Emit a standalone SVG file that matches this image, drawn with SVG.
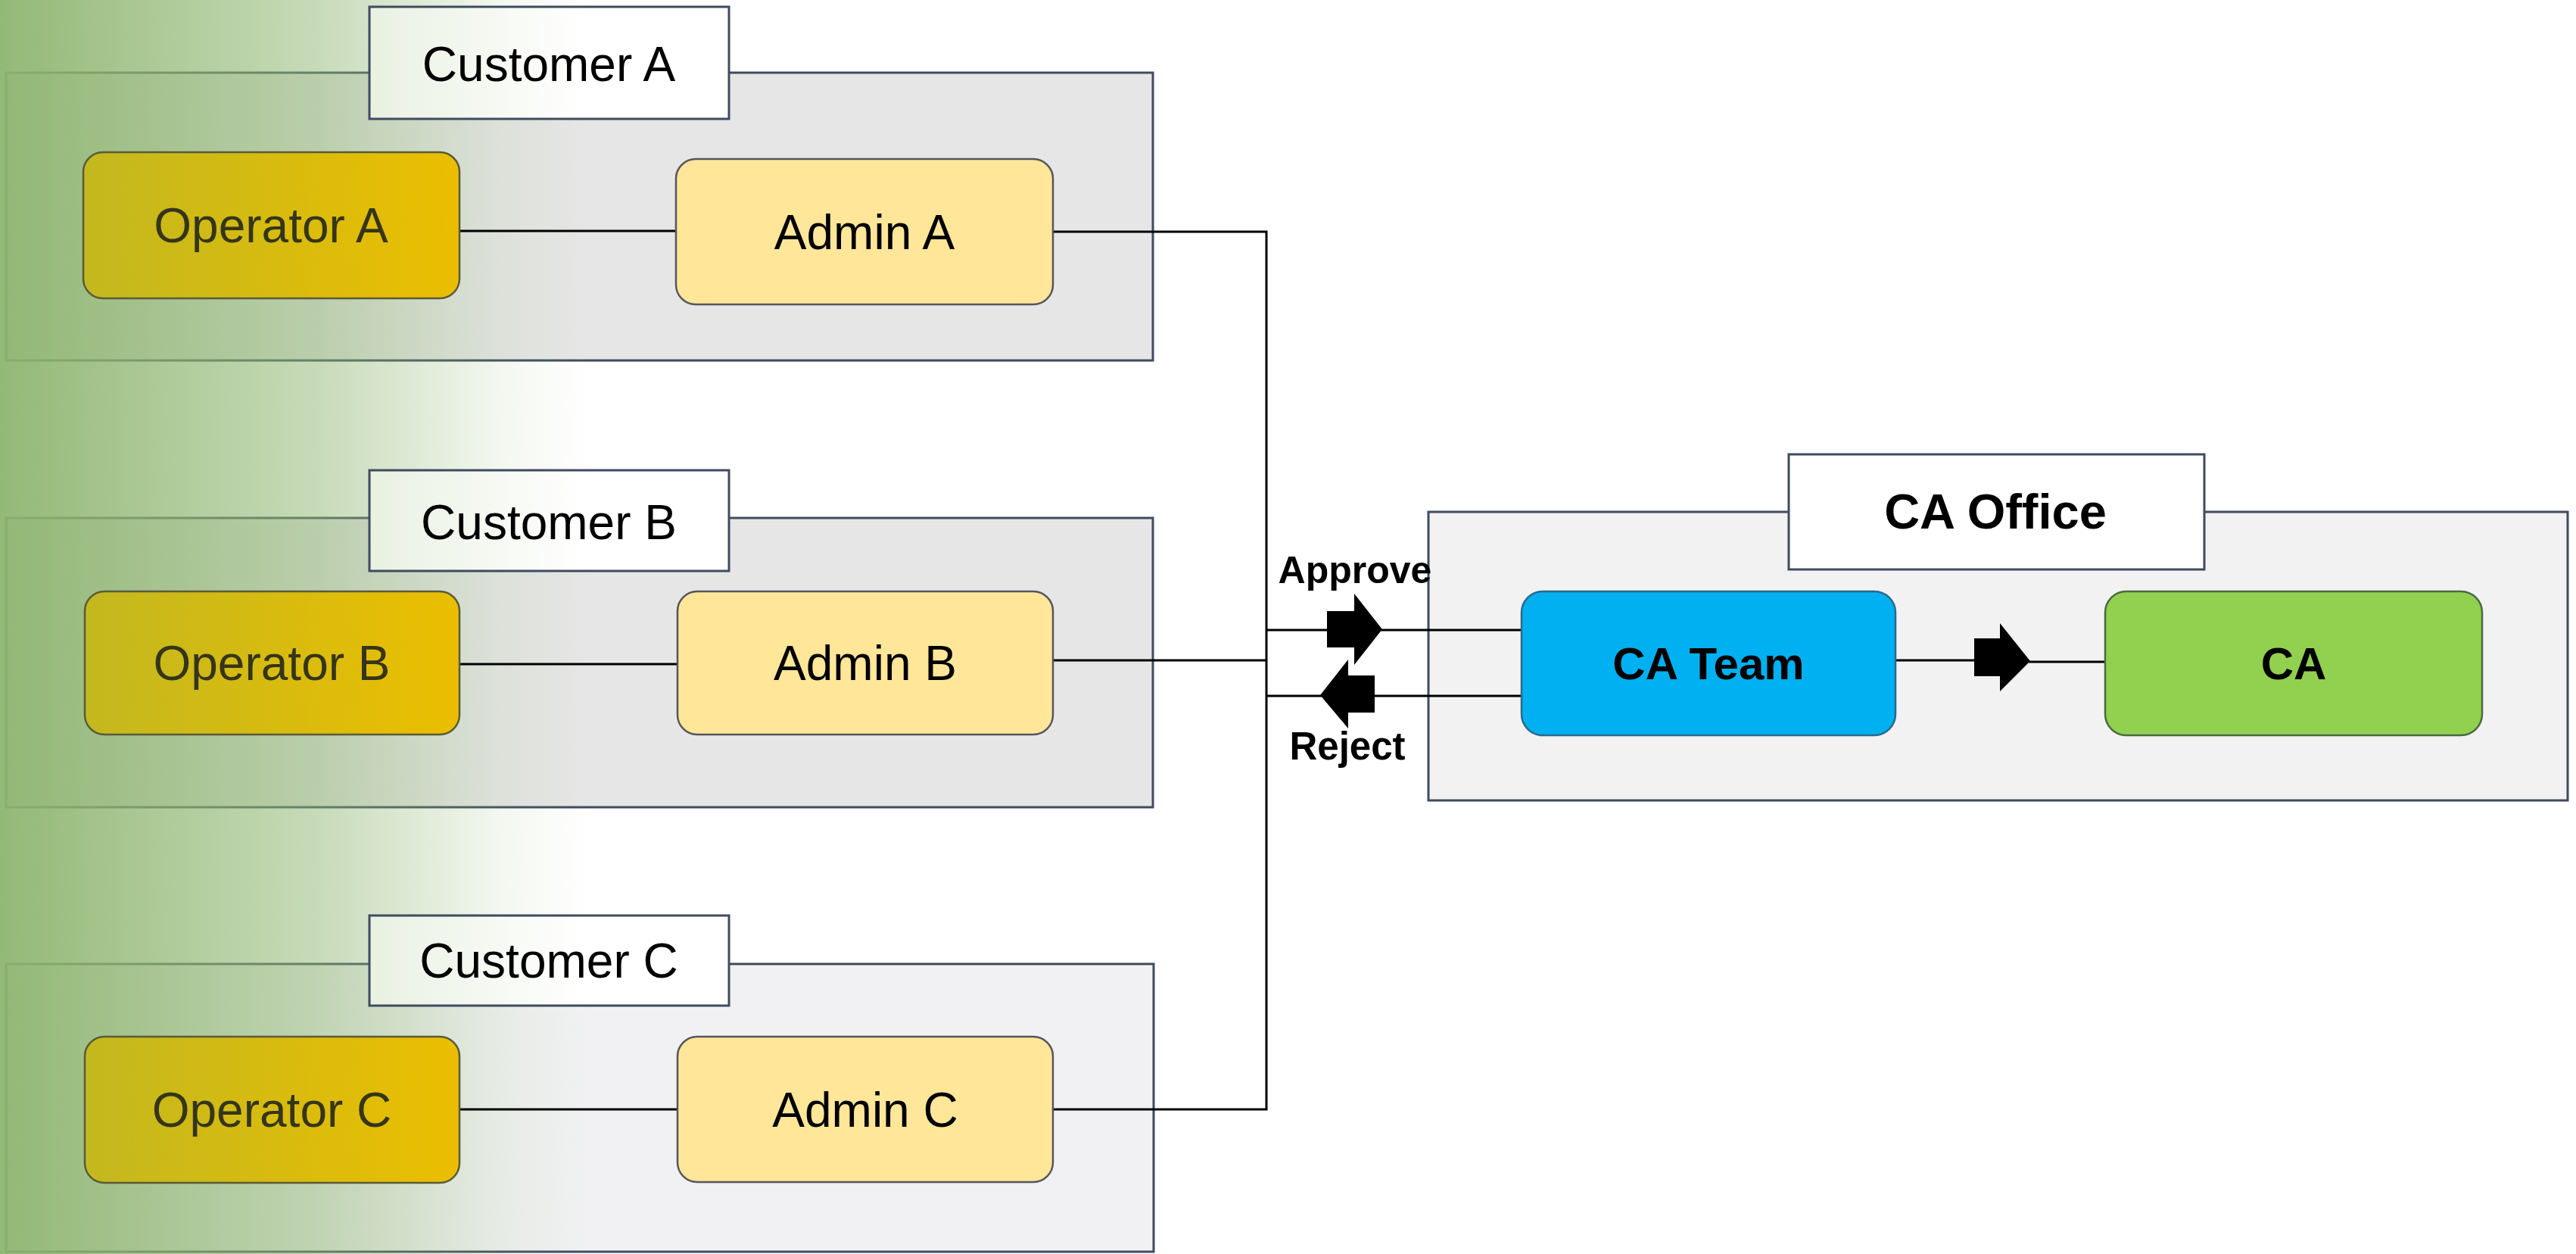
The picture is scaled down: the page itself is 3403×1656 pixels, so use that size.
<svg xmlns="http://www.w3.org/2000/svg" width="3403" height="1656" viewBox="0 0 3403 1656">
<defs>
<linearGradient id="greenFade" x1="0" y1="0" x2="780" y2="0" gradientUnits="userSpaceOnUse">
<stop offset="0" stop-color="#8db56f" stop-opacity="0.95"/>
<stop offset="0.53" stop-color="#8db56f" stop-opacity="0.5"/>
<stop offset="0.85" stop-color="#8db56f" stop-opacity="0.1"/>
<stop offset="1" stop-color="#8db56f" stop-opacity="0"/>
</linearGradient>
<linearGradient id="opGrad" x1="0" y1="0" x2="1" y2="0">
<stop offset="0" stop-color="#c3b81f"/>
<stop offset="1" stop-color="#ebbe00"/>
</linearGradient>
<linearGradient id="labelGrad" x1="0" y1="0" x2="1" y2="0">
<stop offset="0" stop-color="#e9f1e2"/>
<stop offset="0.6" stop-color="#ffffff"/>
<stop offset="1" stop-color="#ffffff"/>
</linearGradient>
</defs>
<style>
.container{stroke:#3f4b5f;stroke-width:3}
.label{fill:url(#labelGrad);stroke:#3f4b5f;stroke-width:3}
.op{fill:url(#opGrad);stroke:#5a5a3a;stroke-width:2.5}
.admin{fill:#ffe699;stroke:#55555f;stroke-width:2.5}
.t{font-family:"Liberation Sans",Arial,sans-serif;text-anchor:middle}
.reg{font-size:64px;fill:#000}
.opt{font-size:64px;fill:#35351a}
.bold{font-weight:bold;fill:#000}
.wire{fill:none;stroke:#000;stroke-width:3}
.blk{fill:#000}
</style>
<rect x="0" y="0" width="3403" height="1656" fill="#ffffff"/>

<g id="customer-a-box">
<rect class="container" x="8" y="96" width="1515" height="380" fill="#e6e6e6"/>
</g>
<g id="customer-b-box">
<rect class="container" x="8" y="684" width="1515" height="382" fill="#e6e6e6"/>
</g>
<g id="customer-c-box">
<rect class="container" x="8" y="1273" width="1516" height="380" fill="#f1f1f3"/>
</g>
<g id="ca-office-box">
<rect class="container" x="1887" y="676" width="1505" height="381" fill="#f2f2f2"/>
</g>

<rect x="0" y="0" width="780" height="1656" fill="url(#greenFade)"/>

<g id="connectors">
<line class="wire" x1="607" y1="305" x2="893" y2="305"/>
<line class="wire" x1="607" y1="877" x2="895" y2="877"/>
<line class="wire" x1="607" y1="1465" x2="895" y2="1465"/>
<polyline class="wire" points="1391,306 1673,306 1673,1465 1391,1465"/>
<line class="wire" x1="1391" y1="872" x2="1673" y2="872"/>
<line class="wire" x1="1673" y1="832" x2="2010" y2="832"/>
<line class="wire" x1="1673" y1="919" x2="2010" y2="919"/>
<line class="wire" x1="2504" y1="872" x2="2610" y2="872"/>
<line class="wire" x1="2680" y1="874" x2="2781" y2="874"/>
<polygon class="blk" points="1753,807 1789,807 1789,784 1826,831 1789,878 1789,855 1753,855"/>
<polygon class="blk" points="1816,892 1781,892 1781,871 1744,918 1781,962 1781,941 1816,941"/>
<polygon class="blk" points="2608,843 2642,843 2642,823 2682,873 2642,913 2642,893 2608,893"/>
<text class="t bold" x="1790" y="770" font-size="50">Approve</text>
<text class="t bold" x="1780" y="1003" font-size="51">Reject</text>
</g>

<g id="customer-a-label">
<rect class="label" x="488" y="9" width="475" height="148"/>
<text class="t reg" x="725" y="107">Customer A</text>
</g>
<g id="customer-b-label">
<rect class="label" x="488" y="621" width="475" height="133"/>
<text class="t reg" x="725" y="712">Customer B</text>
</g>
<g id="customer-c-label">
<rect class="label" x="488" y="1209" width="475" height="119"/>
<text class="t reg" x="725" y="1291">Customer C</text>
</g>
<g id="ca-office-label">
<rect x="2363" y="600" width="549" height="152" fill="#ffffff" stroke="#3f4b5f" stroke-width="3"/>
<text class="t bold" x="2636" y="698" font-size="65">CA Office</text>
</g>

<g id="operator-a">
<rect class="op" x="110" y="201" width="497" height="193" rx="26"/>
<text class="t opt" x="358" y="320">Operator A</text>
</g>
<g id="admin-a">
<rect class="admin" x="893" y="210" width="498" height="192" rx="26"/>
<text class="t reg" x="1142" y="329">Admin A</text>
</g>
<g id="operator-b">
<rect class="op" x="112" y="781" width="495" height="189" rx="26"/>
<text class="t opt" x="359" y="898">Operator B</text>
</g>
<g id="admin-b">
<rect class="admin" x="895" y="781" width="496" height="189" rx="26"/>
<text class="t reg" x="1143" y="898">Admin B</text>
</g>
<g id="operator-c">
<rect class="op" x="112" y="1369" width="495" height="193" rx="26"/>
<text class="t opt" x="359" y="1488">Operator C</text>
</g>
<g id="admin-c">
<rect class="admin" x="895" y="1369" width="496" height="192" rx="26"/>
<text class="t reg" x="1143" y="1488">Admin C</text>
</g>
<g id="ca-team">
<rect x="2010" y="781" width="494" height="190" rx="28" fill="#00b0f0" stroke="#2a6a8a" stroke-width="2.5"/>
<text class="t bold" x="2257" y="897" font-size="60">CA Team</text>
</g>
<g id="ca">
<rect x="2781" y="781" width="498" height="190" rx="28" fill="#92d050" stroke="#4a6a40" stroke-width="2.5"/>
<text class="t bold" x="3030" y="897" font-size="60">CA</text>
</g>
</svg>
